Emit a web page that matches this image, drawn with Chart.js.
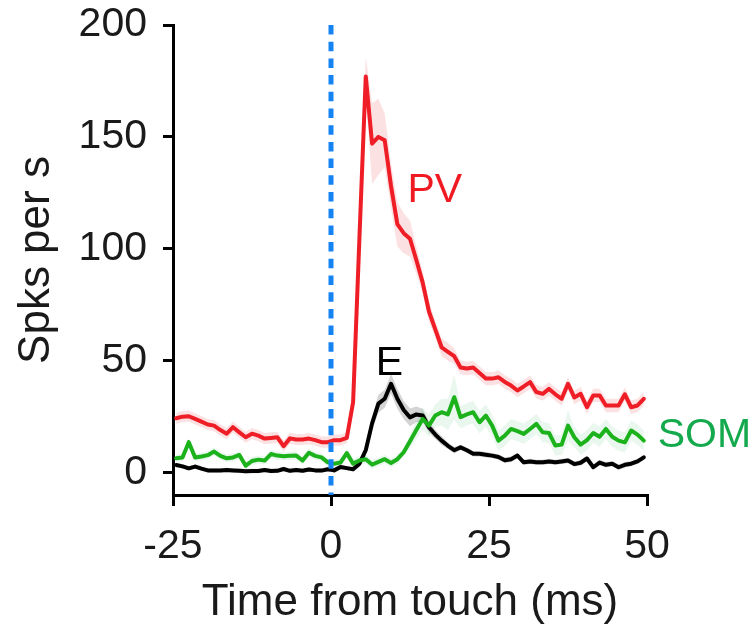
<!DOCTYPE html>
<html>
<head>
<meta charset="utf-8">
<script src="https://cdn.jsdelivr.net/npm/chart.js@4.4.0/dist/chart.umd.min.js"></script>
<style>
  html, body { margin: 0; padding: 0; background: #fff; }
  #wrap { width: 756px; height: 629px; }
</style>
</head>
<body>
<div id="wrap"><canvas id="chart-touch" width="756" height="629"></canvas></div>
<script>
// bin centres, ms relative to touch
const timeMs = [
  -24.5, -23.5, -22.5, -21.5, -20.5, -19.5, -18.5, -17.5, -16.5, -15.5,
  -14.5, -13.5, -12.5, -11.5, -10.5, -9.5, -8.5, -7.5, -6.5, -5.5,
  -4.5, -3.5, -2.5, -1.5, -0.5, 0.5, 1.5, 2.5, 3.5, 4.5,
  5.5, 6.5, 7.5, 8.5, 9.5, 10.5, 11.5, 12.5, 13.5, 14.5,
  15.5, 16.5, 17.5, 18.5, 19.5, 20.5, 21.5, 22.5, 23.5, 24.5,
  25.5, 26.5, 27.5, 28.5, 29.5, 30.5, 31.5, 32.5, 33.5, 34.5,
  35.5, 36.5, 37.5, 38.5, 39.5, 40.5, 41.5, 42.5, 43.5, 44.5,
  45.5, 46.5, 47.5, 48.5, 49.5
];

// mean firing rates (spikes/s)
const pvRate = [
  24.3, 25, 25.2, 24, 22.8, 21.5, 21, 19, 17.4, 20.3,
  18, 15.8, 17.4, 16.5, 15.2, 15.5, 15.8, 11.8, 15.3, 14.8,
  14.8, 15.2, 14.5, 13.6, 13.6, 14.5, 14.5, 15.5, 31.5, 105,
  177, 147, 150, 148.5, 128, 111, 107, 104.5, 95, 85,
  72, 64, 56, 54, 52, 47, 46.5, 47, 44.5, 42,
  42, 42.6, 40.5, 38.9, 36.7, 38.5, 40.4, 36, 35.2, 37.4,
  35, 33, 39.7, 33.6, 35.2, 29.2, 34.5, 34.5, 30, 30,
  30, 35, 29.2, 30, 33
];
const somRate = [
  6.4, 6.8, 13.6, 6.8, 7.2, 7.8, 9.4, 7.5, 6.4, 6.8,
  7.9, 3.1, 5.2, 5.8, 5.4, 8.3, 7.6, 7.3, 7.5, 7.6,
  5.4, 8.9, 7.5, 6.8, 4.6, 4, 4.5, 8.7, 4, 5.4,
  6, 3.6, 4.8, 6, 4.3, 6, 9.1, 14, 19, 24,
  21, 25.5, 27, 26, 33.7, 24.8, 26, 27, 22.5, 25.5,
  21, 14.3, 16.5, 19.5, 18.5, 17.3, 19.5, 21.8, 18, 17.7,
  12.1, 12.5, 21, 15.8, 12.5, 14.5, 17.7, 16, 19.5, 16,
  14.3, 13.5, 18.8, 17, 14.3
];
const excRate = [
  3.4, 2.8, 1.9, 2.7, 1.8, 1, 1, 1, 1.2, 1,
  0.8, 0.6, 0.7, 0.7, 1.2, 0.7, 0.8, 1.6, 0.8, 1.2,
  0.8, 1.4, 1, 0.9, 1.5, 1, 2.5, 2, 1.5, 4,
  10, 22, 30.8, 33, 39.7, 33, 28, 24.7, 26, 25.5,
  20.3, 17, 14.3, 12, 10, 11.3, 10, 8.4, 8.4, 8,
  7.6, 7, 5.5, 6, 7.6, 4.6, 5, 4.6, 4.6, 5,
  4.6, 5, 5.4, 3.8, 4.4, 6.3, 2.4, 4.5, 3.5, 4,
  2.4, 3.5, 4, 5, 6.8
];

// s.e.m. half-widths
const pvSem = [
  2.5, 2.5, 2.5, 2.5, 2.5, 2.5, 2.5, 2.5, 2.5, 2.5,
  2.5, 2.5, 2.5, 2.5, 2.5, 2.5, 2.5, 2.5, 2.5, 2.5,
  2.5, 2.5, 2.5, 2.5, 2.5, 2.5, 2.5, 2.5, 4, 9,
  9, 18, 17, 12, 10, 10, 9, 8, 6, 5,
  4.5, 4, 4, 4, 3.5, 3, 3, 3, 3, 3,
  3, 3, 3, 3, 3, 3, 3, 3, 3, 3,
  3, 3, 3, 3, 3, 3, 3, 3, 3, 3,
  3, 3, 3, 3, 3
];
const somSem = [
  1.8, 1.8, 1.8, 1.8, 1.8, 1.8, 1.8, 1.8, 1.8, 1.8,
  1.8, 1.8, 1.8, 1.8, 1.8, 1.8, 1.8, 1.8, 1.8, 1.8,
  1.8, 1.8, 1.8, 1.8, 1.8, 1.8, 1.8, 1.8, 2, 2,
  2, 2, 2, 2, 2, 2, 2, 3, 4, 5,
  5, 5, 6, 7, 10, 5, 5, 5, 5, 5,
  5, 4.5, 4.5, 4.5, 4.5, 4.5, 4.5, 4.5, 4.5, 4.5,
  4.5, 4.5, 7, 4.5, 4.5, 4.5, 4.5, 4.5, 4.5, 4.5,
  4.5, 4.5, 4.5, 4.5, 4.5
];
const excSem = [
  1, 1, 1, 1, 1, 1, 1, 1, 1, 1,
  1, 1, 1, 1, 1, 1, 1, 1, 1, 1,
  1, 1, 1, 1, 1, 1, 1, 1, 1, 1.5,
  2.5, 3, 4, 4, 4.5, 4.5, 4, 4, 3.5, 3,
  2.5, 2, 2, 1.5, 1.5, 1.2, 1.2, 1.2, 1.2, 1.2,
  1.2, 1.2, 1.2, 1.2, 1.2, 1.2, 1.2, 1.2, 1.2, 1.2,
  1.2, 1.2, 1.2, 1.2, 1.2, 1.2, 1.2, 1.2, 1.2, 1.2,
  1.2, 1.2, 1.2, 1.2, 1.2
];

const xTicks = [-25, 0, 25, 50];
const yTicks = [0, 50, 100, 150, 200];
const touchTime = [0, 0];
const touchSpan = [200, -10];

const FONT = '"Liberation Sans", Arial, Helvetica, sans-serif';
const pvColor = '#ee1d26';
const somColor = '#1cb21c';
const excColor = '#000000';

// text labels next to each trace, anchored in data units
const traceLabels = [
  { text: 'PV', t: 12.1, rate: 121, color: '#f01a22' },
  { text: 'E', t: 7.1, rate: 43.6, color: '#000000' },
  { text: 'SOM', t: 51.7, rate: 11.5, color: '#13a94c' }
];

const toPoints = (vals) => vals.map((v, i) => ({ x: timeMs[i], y: v }));
const bandUpper = (vals, sem) => vals.map((v, i) => ({ x: timeMs[i], y: v + sem[i] }));
const bandLower = (vals, sem) => vals.map((v, i) => ({ x: timeMs[i], y: v - sem[i] }));

function trace(label, vals, color) {
  return { label, data: toPoints(vals), borderColor: color, borderWidth: 4, pointRadius: 0,
    tension: 0, fill: false, borderJoinStyle: 'round', borderCapStyle: 'round' };
}
function band(vals, sem, color) {
  return [
    { data: bandUpper(vals, sem), borderWidth: 0, pointRadius: 0, backgroundColor: color, fill: '+1' },
    { data: bandLower(vals, sem), borderWidth: 0, pointRadius: 0, backgroundColor: color, fill: false }
  ];
}

const traceLabelPlugin = {
  id: 'traceLabels',
  afterDatasetsDraw(chart) {
    const { ctx, scales: { x, y } } = chart;
    ctx.save();
    ctx.font = '41px ' + FONT;
    ctx.textAlign = 'left';
    ctx.textBaseline = 'alphabetic';
    traceLabels.forEach(l => {
      ctx.fillStyle = l.color;
      ctx.fillText(l.text, x.getPixelForValue(l.t), y.getPixelForValue(l.rate));
    });
    ctx.restore();
  }
};

const tickFont = { family: FONT, size: 41 };
const titleFont = { family: FONT, size: 44 };

new Chart(document.getElementById('chart-touch'), {
  type: 'line',
  data: {
    datasets: [
      { data: touchTime.map((t, i) => ({ x: t, y: touchSpan[i] })), borderColor: '#1683f2',
        borderWidth: 5, borderDash: [9.5, 7.2], borderCapStyle: 'butt', pointRadius: 0, fill: false },
      trace('PV', pvRate, pvColor),
      trace('SOM', somRate, somColor),
      trace('E', excRate, excColor),
      ...band(pvRate, pvSem, 'rgba(236, 40, 60, 0.14)'),
      ...band(somRate, somSem, 'rgba(40, 175, 90, 0.10)'),
      ...band(excRate, excSem, 'rgba(0, 0, 0, 0.17)')
    ]
  },
  options: {
    responsive: false,
    animation: false,
    layout: { padding: { top: 25, right: 109, bottom: 0, left: 0 } },
    plugins: { legend: { display: false }, tooltip: { enabled: false } },
    scales: {
      x: {
        type: 'linear', min: -25, max: 50,
        afterBuildTicks: axis => { axis.ticks = xTicks.map(v => ({ value: v })); },
        afterFit: axis => { axis.height = 134; },
        grid: { drawOnChartArea: false, drawTicks: true, tickLength: 11, color: '#000', lineWidth: 3 },
        border: { display: true, color: '#000', width: 3 },
        ticks: { color: '#1a1a1a', font: tickFont, padding: 16, maxRotation: 0, autoSkip: false },
        title: { display: true, text: 'Time from touch (ms)', color: '#1a1a1a', font: titleFont,
          padding: { top: 0, bottom: 0 } }
      },
      y: {
        type: 'linear', min: -10, max: 200,
        afterBuildTicks: axis => { axis.ticks = yTicks.map(v => ({ value: v })); },
        // fixed axis width; tick label overhang is covered by the layout padding
        afterFit: axis => { axis.width = 173; axis.paddingTop = 0; axis.paddingBottom = 0; },
        grid: { drawOnChartArea: false, drawTicks: true, tickLength: 10, color: '#000', lineWidth: 3 },
        border: { display: true, color: '#000', width: 3 },
        ticks: { color: '#1a1a1a', font: tickFont, padding: 16, autoSkip: false },
        title: { display: true, text: 'Spks per s', color: '#1a1a1a', font: titleFont,
          padding: { top: 10, bottom: 0 } }
      }
    }
  },
  plugins: [traceLabelPlugin]
});
</script>
</body>
</html>
